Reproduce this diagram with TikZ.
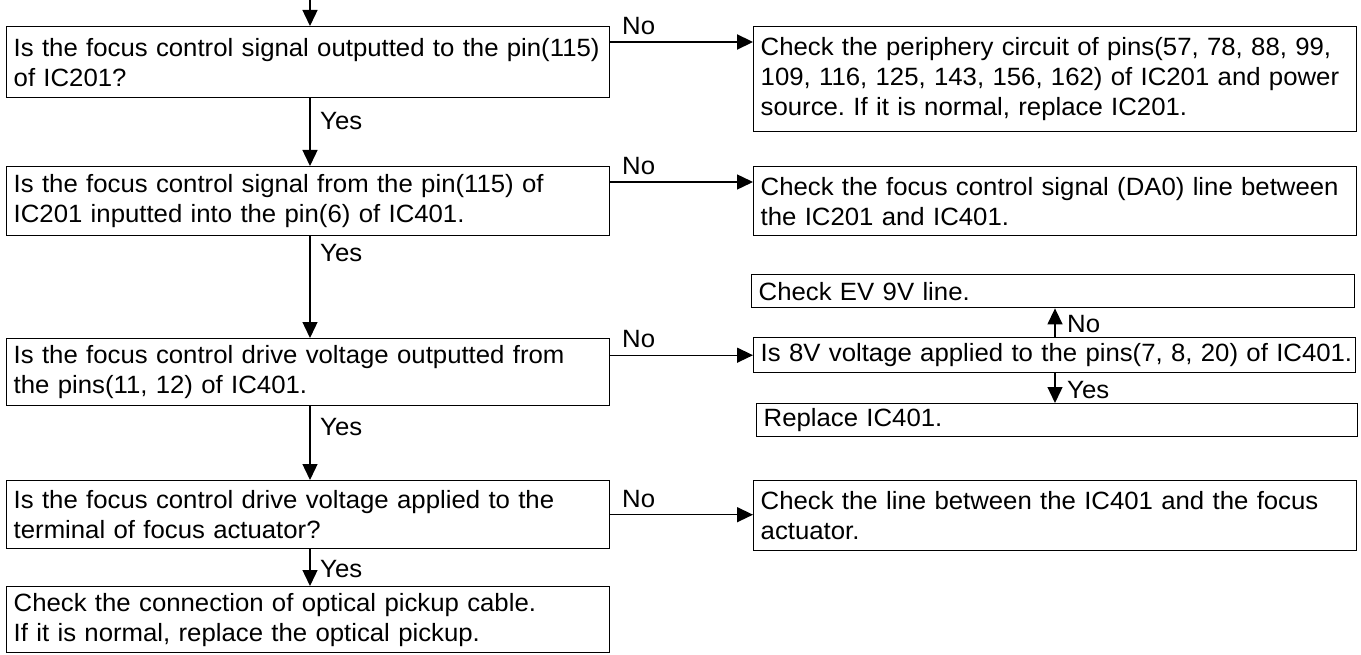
\documentclass[tikz,border=0pt]{standalone}
\usepackage{fontspec}
\setmainfont{Liberation Sans}[FakeStretch=1.03]
\usetikzlibrary{arrows.meta}
\begin{document}
\frenchspacing
\begin{tikzpicture}[x=1pt,y=-1pt,
  font=\fontsize{25}{30}\selectfont,
  box/.style={draw, line width=1.4pt, anchor=north west, inner xsep=7pt, inner ysep=0pt, align=left},
  arr/.style={line width=1.4pt, -{Triangle[length=16pt,width=15pt]}},
  lbl/.style={inner sep=0pt, anchor=base west}]
\useasboundingbox (0,0) rectangle (1361,655);
% left column
\node[box, text width=589pt, minimum height=71pt] (q1) at (6,26)
  {\mbox{Is the focus control signal outputted to the pin(115)}\\\mbox{of IC201?}};
\node[box, text width=589pt, minimum height=69pt] (q2) at (6,166)
  {\mbox{Is the focus control signal from the pin(115) of}\\\mbox{IC201 inputted into the pin(6) of IC401.}};
\node[box, text width=589pt, minimum height=67pt] (q3) at (6,338)
  {\mbox{Is the focus control drive voltage outputted from}\\\mbox{the pins(11, 12) of IC401.}};
\node[box, text width=589pt, minimum height=68pt] (q4) at (6,480)
  {\mbox{Is the focus control drive voltage applied to the}\\\mbox{terminal of focus actuator?}};
\node[box, text width=589pt, minimum height=66pt] (q5) at (6,586)
  {\mbox{Check the connection of optical pickup cable.}\\\mbox{If it is normal, replace the optical pickup.}};
% right column
\node[box, text width=589pt, minimum height=105pt] (r1) at (753,26)
  {\mbox{Check the periphery circuit of pins(57, 78, 88, 99,}\\\mbox{109, 116, 125, 143, 156, 162) of IC201 and power}\\\mbox{source. If it is normal, replace IC201.}};
\node[box, text width=589pt, minimum height=69pt] (r2) at (753,166)
  {\mbox{Check the focus control signal (DA0) line between}\\\mbox{the IC201 and IC401.}};
\node[box, text width=589pt, minimum height=33pt] (ev) at (751,274)
  {\mbox{Check EV 9V line.}};
\node[box, text width=588pt, minimum height=35pt] (r3) at (753,337)
  {\mbox{Is 8V voltage applied to the pins(7, 8, 20) of IC401.}};
\node[box, text width=587pt, minimum height=33pt] (rep) at (756,403)
  {\mbox{Replace IC401.}};
\node[box, text width=589pt, minimum height=70pt] (r4) at (753,480)
  {\mbox{Check the line between the IC401 and the focus}\\\mbox{actuator.}};
% vertical flow
\coordinate (top) at (310,0);
\draw[arr] (top) -- (top |- q1.north);
\draw[arr] (q1.south -| top) -- (q2.north -| top);
\draw[arr] (q2.south -| top) -- (q3.north -| top);
\draw[arr] (q3.south -| top) -- (q4.north -| top);
\draw[arr] (q4.south -| top) -- (q5.north -| top);
\node[lbl] (y1) at (320,130) {Yes};
\node[lbl] (y2) at (320,262) {Yes};
\node[lbl] (y3) at (320,435) {Yes};
\node[lbl] (y4) at (320,577) {Yes};
% No branches
\draw[arr, line width=2.2pt] ([yshift=-16pt]q1.north east) -- ([yshift=-16pt]q1.north east -| r1.west);
\draw[arr] ([yshift=-16pt]q2.north east) -- ([yshift=-16pt]q2.north east -| r2.west);
\draw[arr] (r3.west -| q3.east) -- (r3.west);
\draw[arr] (q4.east) -- (q4.east -| r4.west);
\node[lbl] (n1) at (622,35) {No};
\node[lbl] (n2) at (622,175) {No};
\node[lbl] (n3) at (622,347) {No};
\node[lbl] (n4) at (622,507) {No};
% small branches
\coordinate (sx) at (1055,0);
\draw[arr] (r3.north -| sx) -- (ev.south -| sx);
\draw[arr] (r3.south -| sx) -- (rep.north -| sx);
\node[lbl] (n5) at (1067,333) {No};
\node[lbl] (y5) at (1067,398) {Yes};
\end{tikzpicture}
\end{document}
